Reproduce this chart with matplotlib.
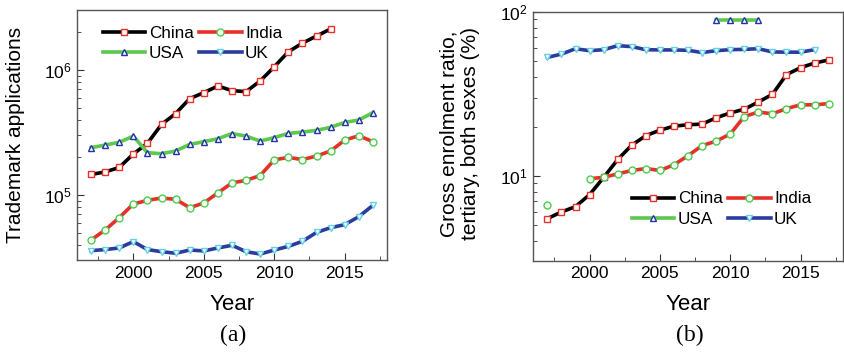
import numpy as np
import matplotlib
matplotlib.use('Agg')
import matplotlib.pyplot as plt
from matplotlib.ticker import MultipleLocator, LogLocator, NullFormatter

plt.rcParams['font.family'] = ['Liberation Sans', 'DejaVu Sans']
plt.rcParams['mathtext.fontset'] = 'custom'
plt.rcParams['mathtext.rm'] = 'Liberation Sans'
plt.rcParams['mathtext.it'] = 'Liberation Sans'
plt.rcParams['mathtext.default'] = 'regular'

nan = np.nan
years = list(range(1997, 2018))

# (a) trademark applications
tm_china = [146e3, 153e3, 166e3, 213e3, 259e3, 367e3, 448e3, 590e3, 659e3, 745e3,
            684e3, 671e3, 817e3, 1.06e6, 1.40e6, 1.64e6, 1.87e6, 2.13e6, nan, nan, nan]
tm_india = [43.7e3, 52.5e3, 65.9e3, 84.7e3, 90.6e3, 94.6e3, 92.3e3, 79.2e3, 86.3e3, 104e3,
            125e3, 131e3, 143e3, 191e3, 200e3, 192e3, 205e3, 225e3, 275e3, 298e3, 267e3]
tm_usa = [239e3, 251e3, 264e3, 296e3, 218e3, 214e3, 225e3, 254e3, 267e3, 282e3,
          310e3, 296e3, 270e3, 288e3, 311e3, 319e3, 329e3, 348e3, 381e3, 398e3, 456e3]
tm_uk = [35.9e3, 36.6e3, 37.7e3, 42.4e3, 36.6e3, 35.2e3, 34.2e3, 36.3e3, 35.7e3, 37.7e3,
         39.6e3, 35.2e3, 33.7e3, 36.3e3, 38.8e3, 42.6e3, 50.2e3, 54.8e3, 57.9e3, 67.1e3, 82.6e3]

# (b) gross enrolment ratio, tertiary (%)
ger_china = [5.5, 6.04, 6.51, 7.7, 9.8, 12.6, 15.4, 17.6, 19.0, 20.1, 20.5, 20.7,
             22.6, 24.2, 25.5, 28.2, 31.4, 41.4, 45.6, 48.7, 50.8]
ger_india = [6.63, nan, nan, 9.63, 9.81, 10.3, 10.8, 11.1, 10.8, 11.7, 13.3, 15.3,
             16.3, 18.0, 23.0, 24.5, 23.9, 25.7, 27.1, 27.1, 27.6]
ger_usa = [nan] * 12 + [88.9, 88.9, 88.9, 88.9] + [nan] * 5
ger_uk = [52.7, 55.2, 59.5, 57.9, 58.7, 62.1, 61.3, 58.7, 58.5, 58.5, 58.2, 56.4,
          57.9, 58.7, 59.0, 59.5, 56.9, 56.7, 56.7, 58.7, nan]

countries = ['China', 'India', 'USA', 'UK']
line_colors = ['#000000', '#e8302a', '#5cc84e', '#2a3c9c']
mark_colors = ['#e8302a', '#4ccc4c', '#2233aa', '#66d0e8']
markers = ['s', 'o', '^', 'v']

fig = plt.figure(figsize=(8.44, 3.55), dpi=100)
ax1 = fig.add_axes([0.0912, 0.2676, 0.3673, 0.7042])
ax2 = fig.add_axes([0.6319, 0.2656, 0.3666, 0.7015])


def draw(ax, series):
    for name, vals, lc, mc, mk in zip(countries, series, line_colors, mark_colors, markers):
        ax.plot(years, vals, color=lc, lw=2.6, marker=mk, ms=5, mfc='white',
                mec=mc, mew=1.0, label=name)
    ax.set_yscale('log')
    ax.set_xlim(1996, 2018)
    ax.xaxis.set_major_locator(MultipleLocator(5))
    ax.xaxis.set_minor_locator(MultipleLocator(2.5))
    ax.yaxis.set_minor_locator(LogLocator(base=10, subs=np.arange(2, 10)))
    ax.yaxis.set_minor_formatter(NullFormatter())
    ax.tick_params(which='both', direction='in', top=False, right=False,
                   labelsize=12.5, color='#333333')
    ax.tick_params(which='major', length=5, pad=4)
    ax.tick_params(which='minor', length=3)
    for s in ax.spines.values():
        s.set_color('#555555')
        s.set_linewidth(1.0)
    ax.set_xlabel('Year', fontsize=16)


def legend(ax, anchor):
    # rows: China India / USA UK
    h, l = ax.get_legend_handles_labels()
    order = [0, 2, 1, 3]
    ax.legend([h[i] for i in order], [l[i] for i in order], ncol=2,
              loc='upper left', bbox_to_anchor=anchor, frameon=False,
              fontsize=12.3, handlelength=2.5, handletextpad=0.2,
              columnspacing=0.3, labelspacing=0.3, borderpad=0,
              borderaxespad=0, numpoints=1)


draw(ax1, [tm_china, tm_india, tm_usa, tm_uk])
ax1.set_ylim(3.02e4, 3.02e6)
ax1.set_ylabel('Trademark applications', fontsize=15)
ax1.yaxis.set_label_coords(-0.168, 0.5)
ax1.xaxis.set_label_coords(0.5, -0.135)
legend(ax1, (0.083, 0.935))

draw(ax2, [ger_china, ger_india, ger_usa, ger_uk])
ax2.set_ylim(3.05, 100)
ax2.set_ylabel('Gross enrolment ratio,\ntertiary, both sexes (%)', fontsize=15,
               linespacing=1.15)
ax2.yaxis.set_label_coords(-0.172, 0.51)
ax2.xaxis.set_label_coords(0.5, -0.133)
legend(ax2, (0.318, 0.278))

fig.text(0.276, 0.056, '(a)', ha='center', va='center', fontsize=17,
         family='Liberation Serif')
fig.text(0.8175, 0.056, '(b)', ha='center', va='center', fontsize=17,
         family='Liberation Serif')

fig.savefig('out.png', dpi=100)
